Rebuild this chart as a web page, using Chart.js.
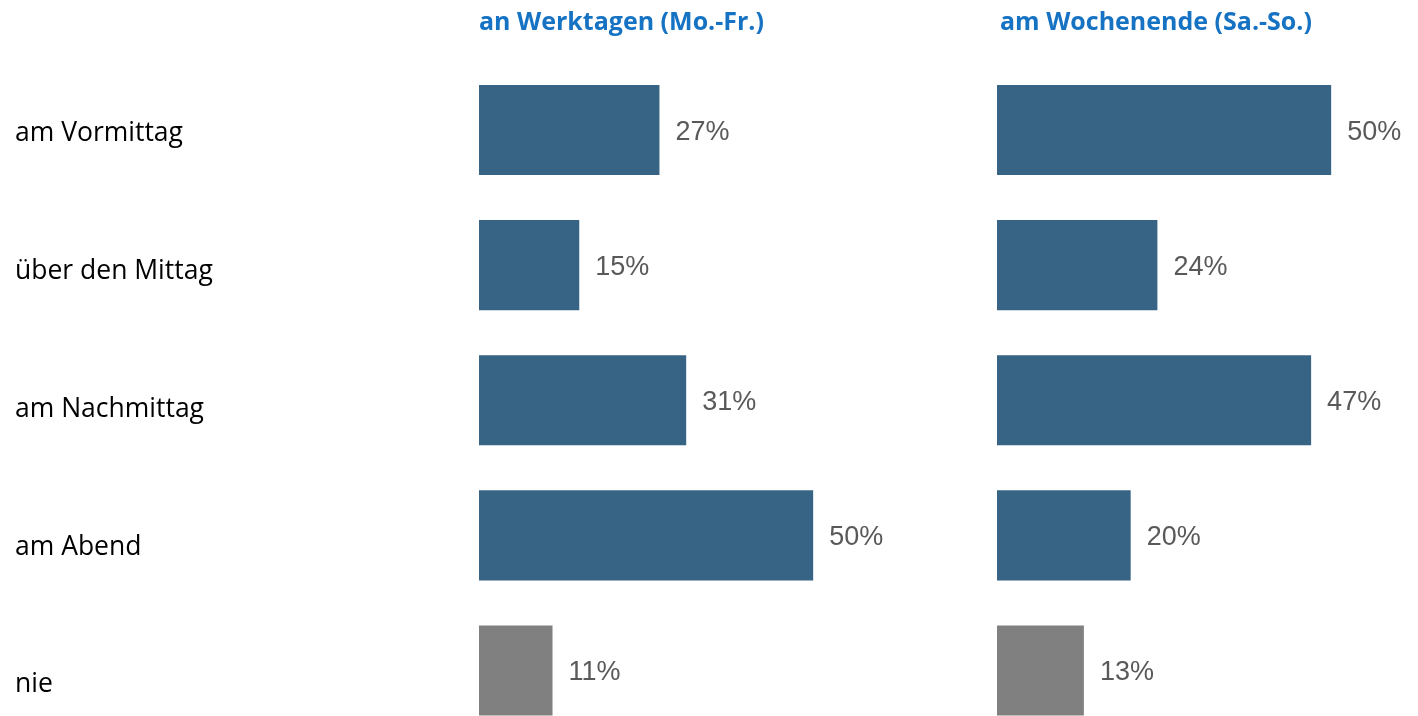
<!DOCTYPE html>
<html>
<head>
<meta charset="utf-8">
<script src="https://cdn.jsdelivr.net/npm/chart.js@4"></script>
<style>
  html, body { margin: 0; padding: 0; background: #fff; overflow: hidden; }
  #wrap { position: relative; width: 1418px; height: 716px; overflow: hidden; }
  canvas { position: absolute; top: 0; }
  .title { position: absolute; top: 3px; font-family: "Open Sans", sans-serif; font-weight: 700;
           font-size: 25px; color: #1672c2; white-space: nowrap; }
</style>
</head>
<body>
<div id="wrap">
  <canvas id="weekdayChart" width="900" height="738" style="left:0"></canvas>
  <canvas id="weekendChart" width="438" height="738" style="left:980px"></canvas>
  <div class="title" style="left:479px">an Werktagen (Mo.-Fr.)</div>
  <div class="title" style="left:1000px">am Wochenende (Sa.-So.)</div>
</div>
<script>
const categories = ['am Vormittag', 'über den Mittag', 'am Nachmittag', 'am Abend', 'nie'];
const weekdayValues = [27, 15, 31, 50, 11];
const weekendValues = [50, 24, 47, 20, 13];
const barColors = ['#376384', '#376384', '#376384', '#376384', '#808080'];

// value labels right of each bar
const valueLabels = {
    id: 'valueLabels',
    afterDatasetsDraw(chart) {
        const ctx = chart.ctx;
        const meta = chart.getDatasetMeta(0);
        ctx.save();
        ctx.font = '27px "Liberation Sans", sans-serif';
        ctx.fillStyle = '#595959';
        ctx.textAlign = 'left';
        ctx.textBaseline = 'middle';
        meta.data.forEach(function(bar, i) {
            ctx.fillText(chart.data.datasets[0].data[i] + '%', bar.x + 16, bar.y + 2);
        });
        ctx.restore();
    }
};

function makeChart(canvasId, values, showLabels, padLeft) {
    const ctx = document.getElementById(canvasId).getContext('2d');
    const scales = {
        x: { min: 0, max: 60, display: false, grid: { display: false } },
        y: { display: false, grid: { display: false } }
    };
    if (showLabels) {
        // category names sit on their own axis, spaced a little wider than the bars
        scales.yLabels = {
            type: 'linear',
            position: 'left',
            reverse: true,
            offset: false,
            min: -0.516,
            max: 4.386,
            grid: { display: false },
            border: { display: false },
            afterFit: function(scale) {
                scale.width = 464;
                scale.paddingTop = 0;
                scale.paddingBottom = 0;
            },
            afterBuildTicks: function(scale) {
                scale.ticks = categories.map(function(c, i) { return { value: i }; });
            },
            ticks: {
                crossAlign: 'far',
                color: '#000',
                font: { family: '"Open Sans", sans-serif', size: 26.5 },
                callback: function(v) { return categories[v]; }
            }
        };
    }
    return new Chart(ctx, {
        type: 'bar',
        data: {
            labels: categories,
            datasets: [{
                data: values,
                backgroundColor: barColors,
                categoryPercentage: 1,
                barPercentage: 0.667
            }]
        },
        options: {
            indexAxis: 'y',
            responsive: false,
            animation: false,
            layout: { padding: { left: padLeft, right: 20, top: 62.5, bottom: 0 } },
            plugins: { legend: { display: false }, tooltip: { enabled: false } },
            scales: scales
        },
        plugins: [valueLabels]
    });
}

let weekdayChart = makeChart('weekdayChart', weekdayValues, true, 15);
let weekendChart = makeChart('weekendChart', weekendValues, false, 17);
</script>
</body>
</html>
